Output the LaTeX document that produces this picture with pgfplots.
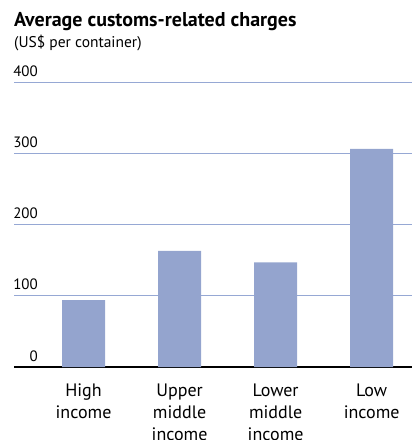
\documentclass[border=0pt]{standalone}
\usepackage{pgfplots}
\pgfplotsset{compat=1.18}
\usepackage{fontspec}
\setmainfont{PT Sans}
\definecolor{barblue}{RGB}{148,164,206}
\definecolor{gridblue}{RGB}{150,168,212}
\begin{document}
\begin{tikzpicture}
\useasboundingbox (-14pt,-73pt) rectangle (398pt,367pt);
\clip (-14pt,-73pt) rectangle (398pt,367pt);
\begin{axis}[
    at={(0,0)}, anchor=south west,
    scale only axis,
    width=398pt, height=285pt,
    xmin=-0.724, xmax=3.42,
    ymin=0, ymax=400,
    ybar, bar width=43pt,
    xtick={0,1,2,3},
    xticklabels={High\\income, Upper\\middle\\income, Lower\\middle\\income, Low\\income},
    xticklabel style={align=center, font=\fontsize{18}{22}\selectfont, anchor=north, inner sep=0pt, yshift=-17pt},
    ytick={0,100,200,300,400},
    yticklabel style={anchor=base east, inner sep=0pt, xshift=24pt, yshift=6pt, font=\fontsize{15}{18}\selectfont},
    /pgf/number format/assume math mode=true,
    major tick length=0pt,
    ymajorgrids,
    grid style={gridblue, line width=1pt},
    axis x line*=bottom, axis y line*=left,
    y axis line style={draw=none},
    x axis line style={-, black, line width=1.2pt},
]
\addplot[fill=barblue, draw=none] coordinates {(0,94) (1,163) (2,147) (3,306)};
\end{axis}
\node[anchor=base west, inner sep=0pt, font=\fontsize{20}{24}\selectfont\bfseries] at (0pt,340pt) {Average customs-related charges};
\node[anchor=base west, inner sep=0pt, font=\fontsize{15.5}{18}\selectfont] at (0pt,319pt) {(US\$ per container)};
\end{tikzpicture}
\end{document}
